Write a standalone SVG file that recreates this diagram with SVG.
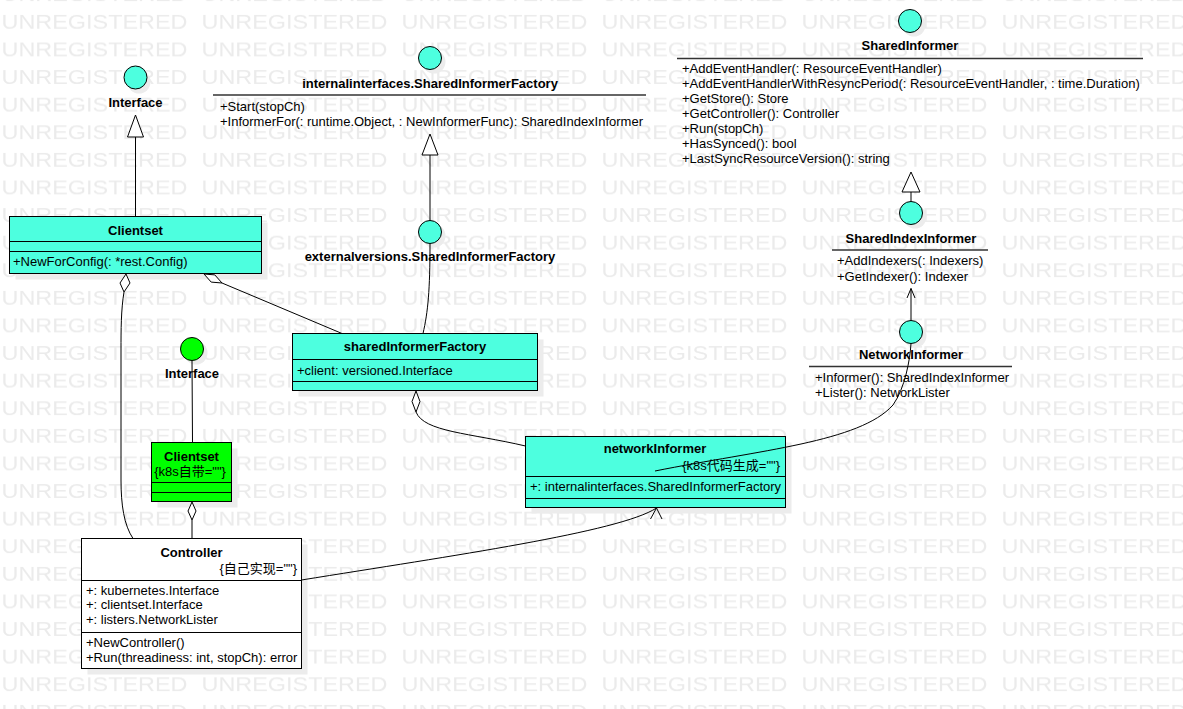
<svg xmlns="http://www.w3.org/2000/svg" width="1183" height="709" viewBox="0 0 1183 709">
<style>
.wm{font-family:"Liberation Sans",Arial,sans-serif;font-size:20.5px;fill:#ebebeb}
.t{font-family:"Liberation Sans","Noto Sans CJK SC",sans-serif;font-size:13px;fill:#000}
.b{font-weight:bold}
.m{text-anchor:middle}
.e{text-anchor:end}
.box{fill:#4dffdf;stroke:#000;stroke-width:1}
.gbox{fill:#00ff00;stroke:#000;stroke-width:1}
.sh{fill:#ececec}
.ln{stroke:#000;stroke-width:1;fill:none}
.ul{stroke:#333;stroke-width:1.4;fill:none}
.hol{fill:#fff;stroke:#000;stroke-width:1}
</style>
<defs>
<pattern id="wmp" patternUnits="userSpaceOnUse" x="0" y="10" width="200" height="27.6">
<text class="wm" x="1.5" y="18.3" textLength="186" lengthAdjust="spacingAndGlyphs">UNREGISTERED</text>
</pattern>
</defs>
<rect width="1183" height="709" fill="#fff"/>
<rect width="1183" height="709" fill="url(#wmp)"/>

<g id="iface-top">
<circle class="sh" cx="139" cy="82" r="11.5"/>
<circle class="box" cx="135.5" cy="77.5" r="11.5"/>
<text class="t b m" x="135.5" y="107">Interface</text>
</g>

<g id="internalinterfaces">
<circle class="sh" cx="434" cy="62" r="11.5"/>
<circle class="box" cx="430" cy="58" r="11.5"/>
<text class="t b m" x="430" y="88">internalinterfaces.SharedInformerFactory</text>
<line class="ul" x1="213" y1="95" x2="646" y2="95"/>
<text class="t" x="220" y="110.5">+Start(stopCh)</text>
<text class="t" x="220" y="125.5">+InformerFor(: runtime.Object, : NewInformerFunc): SharedIndexInformer</text>
</g>

<g id="sharedinformer">
<circle class="sh" cx="914" cy="25" r="11.5"/>
<circle class="box" cx="910" cy="21" r="11.5"/>
<text class="t b m" x="910" y="50">SharedInformer</text>
<line class="ul" x1="677" y1="58.5" x2="1143" y2="58.5"/>
<text class="t" x="682" y="73">+AddEventHandler(: ResourceEventHandler)</text>
<text class="t" x="682" y="88">+AddEventHandlerWithResyncPeriod(: ResourceEventHandler, : time.Duration)</text>
<text class="t" x="682" y="103">+GetStore(): Store</text>
<text class="t" x="682" y="118">+GetController(): Controller</text>
<text class="t" x="682" y="133">+Run(stopCh)</text>
<text class="t" x="682" y="148">+HasSynced(): bool</text>
<text class="t" x="682" y="163">+LastSyncResourceVersion(): string</text>
</g>

<g id="sharedindexinformer">
<circle class="sh" cx="915" cy="217" r="11.5"/>
<circle class="box" cx="911" cy="213" r="11.5"/>
<text class="t b m" x="911" y="243">SharedIndexInformer</text>
<line class="ul" x1="832" y1="250" x2="988" y2="250"/>
<text class="t" x="837" y="265">+AddIndexers(: Indexers)</text>
<text class="t" x="837" y="280.5">+GetIndexer(): Indexer</text>
</g>

<g id="networkinformer-if">
<circle class="sh" cx="915" cy="336" r="11.5"/>
<circle class="box" cx="911" cy="332" r="11.5"/>
<text class="t b m" x="911" y="359">NetworkInformer</text>
<line class="ul" x1="809" y1="366.5" x2="1012" y2="366.5"/>
<text class="t" x="815" y="382">+Informer(): SharedIndexInformer</text>
<text class="t" x="815" y="397">+Lister(): NetworkLister</text>
</g>

<g id="externalversions">
<circle class="sh" cx="434" cy="236" r="11.5"/>
<circle class="box" cx="430" cy="232" r="11.5"/>
<text class="t b m" x="430" y="261">externalversions.SharedInformerFactory</text>
</g>

<g id="clientset">
<rect class="sh" x="15.5" y="222.5" width="252" height="57"/>
<rect class="box" x="9.5" y="216.5" width="252" height="57"/>
<line class="ln" x1="9.5" y1="241.5" x2="261.5" y2="241.5"/>
<line class="ln" x1="9.5" y1="251.5" x2="261.5" y2="251.5"/>
<text class="t b m" x="135.5" y="234.5">Clientset</text>
<text class="t" x="13" y="266">+NewForConfig(: *rest.Config)</text>
</g>

<g id="sharedinformerfactory">
<rect class="sh" x="298.5" y="339.5" width="245" height="57"/>
<rect class="box" x="292.5" y="333.5" width="245" height="57"/>
<line class="ln" x1="292.5" y1="359.5" x2="537.5" y2="359.5"/>
<line class="ln" x1="292.5" y1="381.5" x2="537.5" y2="381.5"/>
<text class="t b m" x="415" y="351">sharedInformerFactory</text>
<text class="t" x="297" y="374.5">+client: versioned.Interface</text>
</g>

<g id="networkinformer">
<rect class="sh" x="531.5" y="442.5" width="260" height="71"/>
<rect class="box" x="525.5" y="436.5" width="260" height="71"/>
<line class="ln" x1="525.5" y1="476.5" x2="785.5" y2="476.5"/>
<line class="ln" x1="525.5" y1="498.5" x2="785.5" y2="498.5"/>
<text class="t b m" x="655" y="453">networkInformer</text>
<text class="t e" x="780" y="469.5">{k8s代码生成=""}</text>
<text class="t" x="530" y="491">+: internalinterfaces.SharedInformerFactory</text>
</g>

<g id="iface-green">
<circle class="sh" cx="196" cy="353" r="11.5"/>
<circle class="gbox" cx="192" cy="349" r="11.5"/>
<text class="t b m" x="192" y="378">Interface</text>
</g>

<g id="clientset-green">
<rect class="sh" x="157.5" y="448.5" width="80" height="59"/>
<rect class="gbox" x="151.5" y="442.5" width="80" height="59"/>
<line class="ln" x1="151.5" y1="482.5" x2="231.5" y2="482.5"/>
<line class="ln" x1="151.5" y1="492.5" x2="231.5" y2="492.5"/>
<text class="t b m" x="191.5" y="460.5">Clientset</text>
<text class="t m" x="190" y="476">{k8s自带=""}</text>
</g>

<g id="controller">
<rect class="sh" x="87.5" y="544.5" width="220" height="130"/>
<rect x="81.5" y="538.5" width="220" height="130" fill="#fff" stroke="#000"/>
<line class="ln" x1="81.5" y1="580.5" x2="301.5" y2="580.5"/>
<line class="ln" x1="81.5" y1="632.5" x2="301.5" y2="632.5"/>
<text class="t b m" x="191.5" y="557">Controller</text>
<text class="t e" x="297" y="573">{自己实现=""}</text>
<text class="t" x="86" y="594.5">+: kubernetes.Interface</text>
<text class="t" x="86" y="609">+: clientset.Interface</text>
<text class="t" x="86" y="623.5">+: listers.NetworkLister</text>
<text class="t" x="86" y="647">+NewController()</text>
<text class="t" x="86" y="661.5">+Run(threadiness: int, stopCh): error</text>
</g>

<g id="connectors">
<line class="ln" x1="135.5" y1="137" x2="135.5" y2="216"/>
<polygon class="hol" points="135.5,115 127.5,137 143.5,137"/>
<line class="ln" x1="430" y1="155" x2="430" y2="220.5"/>
<polygon class="hol" points="430,134 422,155 438,155"/>
<line class="ln" x1="911" y1="192" x2="911" y2="201.5"/>
<polygon class="hol" points="911,172 902,192 920,192"/>
<line class="ln" x1="911" y1="288.5" x2="911" y2="320.5"/>
<polyline class="ln" points="907,298 911,288.5 915,298"/>
<path class="ln" d="M124,292 C121,310 121,330 121,350 L121,480 C121,505 124,525 133,538.5"/>
<polygon class="hol" points="126,274 130,283 124,292 120,283"/>
<line class="ln" x1="222" y1="283" x2="342" y2="333.5"/>
<polygon class="hol" points="204,274 214.8,274.9 222,283 211.2,282.1"/>
<path class="ln" d="M416,412 C424,432 470,433 525.5,446"/>
<polygon class="hol" points="416,391 420,401.5 416,412 412,401.5"/>
<path class="ln" d="M430,243.5 C430,290 428,312 423,333.5"/>
<line class="ln" x1="192" y1="360.5" x2="192.5" y2="442.5"/>
<line class="ln" x1="192" y1="520" x2="192" y2="538.5"/>
<polygon class="hol" points="192,502 196,511 192,520 188,511"/>
<path class="ln" d="M301.5,580 C450,556 620,532 656.5,508"/>
<polyline class="ln" points="650.5,519 656.5,508 662,519"/>
<path class="ln" d="M655,471 C760,450 860,442 893,405 C905,388 910,360 911,343.5"/>
</g>
</svg>
